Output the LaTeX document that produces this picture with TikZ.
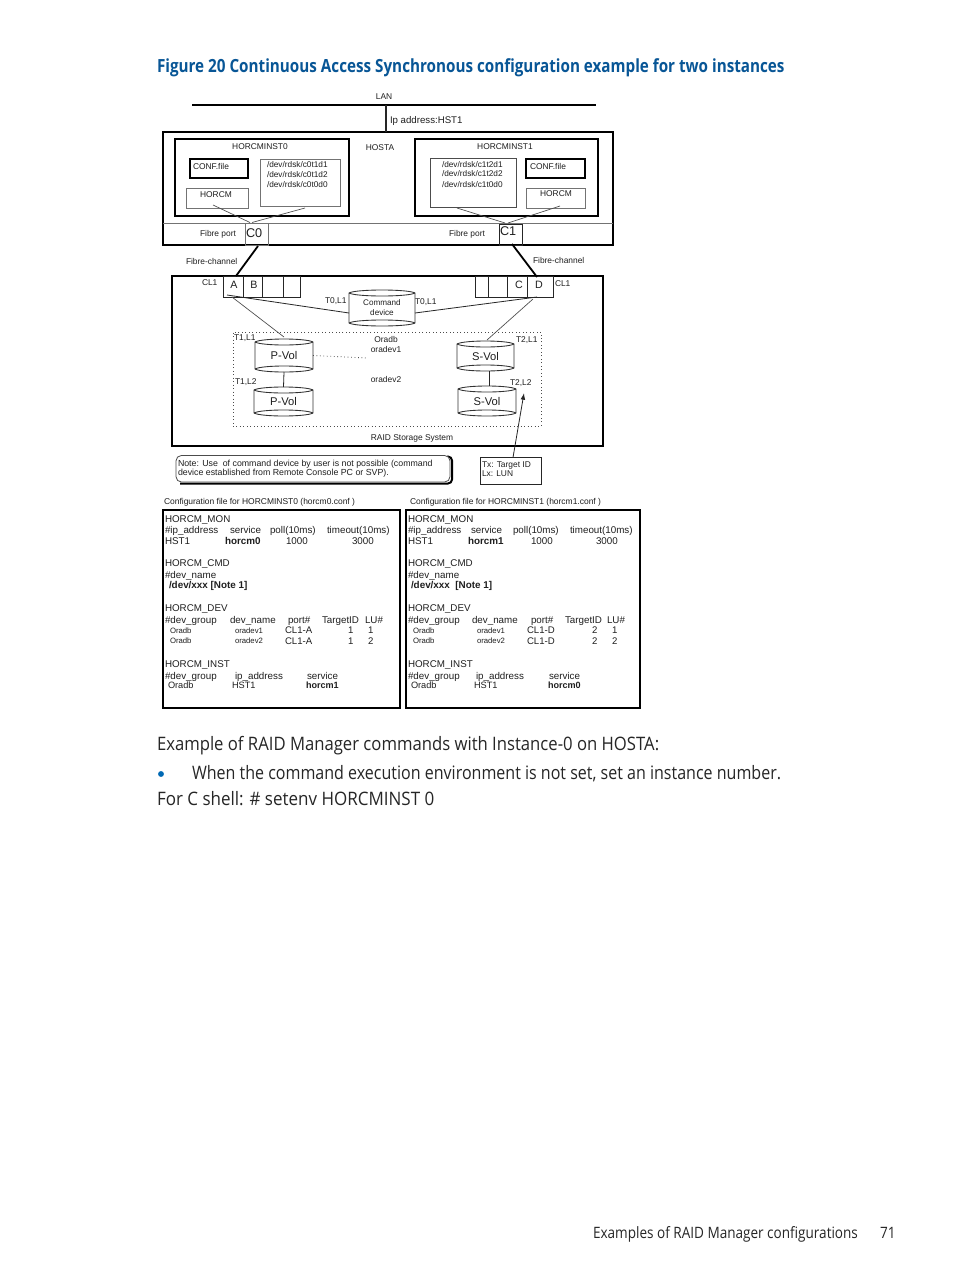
\documentclass[tikz,border=0pt]{standalone}
\usepackage{fontspec}
\usetikzlibrary{arrows.meta}
\setmainfont{Liberation Sans}
\newfontfamily\docfontA[FakeStretch=0.90]{Open Sans}
\newfontfamily\docfontB[FakeStretch=0.865]{Open Sans}
\newfontfamily\docfontC[FakeStretch=0.917]{Open Sans}
\newfontfamily\titlefont[FakeStretch=0.84]{Open Sans}
\definecolor{hpblue}{RGB}{8,86,150}
\definecolor{bulblue}{RGB}{0,105,180}
\definecolor{ink}{gray}{0.12}
\newcount\txc
% \tx{style}{x}{baseline y}{text}
\newcommand{\tx}[4]{\global\advance\txc by 1\relax
  \node[txt,#1] (t\the\txc) at (#2,#3) {#4};}
% \bx{style}{name}{x1}{y1}{x2}{y2}
\newcommand{\bx}[6]{%
  \pgfmathsetmacro\bw{(#5-#3)*0.75}\pgfmathsetmacro\bh{(#6-#4)*0.75}%
  \pgfmathsetmacro\bcx{(#3+#5)/2}\pgfmathsetmacro\bcy{(#4+#6)/2}%
  \node[inner sep=0pt,outer sep=0pt,minimum width=\bw pt,minimum height=\bh pt,#1] (#2) at (\bcx,\bcy) {};}
% \cyl{name}{x1}{y1}{x2}{y2}{text style}{text}
\newcommand{\cyl}[7]{%
  \bx{}{#1}{#2}{#3}{#4}{#5}%
  \draw[cylline] (#2,#3+3) .. controls (#2+7,#3-1) and (#4-7,#3-1) .. (#4,#3+3)
     -- (#4,#5-3) .. controls (#4-7,#5+1) and (#2+7,#5+1) .. (#2,#5-3) -- cycle;
  \draw[cylline] (#2,#3+3) .. controls (#2+7,#3+7) and (#4-7,#3+7) .. (#4,#3+3);
  \draw[cylline] (#2,#5-3) .. controls (#2+7,#5-7) and (#4-7,#5-7) .. (#4,#5-3);
  \node[#6,align=center,inner sep=0pt,text=ink] (#1txt) at (#1) {#7};}
\tikzset{
  txt/.style={anchor=base west,inner sep=0pt,outer sep=0pt,text=ink},
  mid/.style={anchor=base},
  f8/.style={font=\fontsize{6.3}{7}\selectfont},
  f8w/.style={font=\fontsize{6.2}{7}\selectfont},
  nt/.style={font=\fontsize{6.6}{7}\selectfont},
  captxt/.style={font=\fontsize{6.35}{7}\selectfont},
  f9/.style={font=\fontsize{7.25}{8}\selectfont},
  fa/.style={font=\fontsize{9.5}{10}\selectfont},
  fport/.style={font=\fontsize{8}{9}\selectfont},
  fc/.style={font=\fontsize{5.8}{6}\selectfont},
  ci/.style={font=\fontsize{6.9}{8}\selectfont},
  cf/.style={font=\fontsize{7.35}{9}\selectfont},
  cg/.style={font=\fontsize{7.2}{9}\selectfont},
  cb/.style={font=\fontsize{7.4}{9}\selectfont\bfseries},
  cs/.style={font=\fontsize{6.8}{9}\selectfont\bfseries},
  vol/.style={font=\fontsize{8.4}{9}\selectfont},
  heavy/.style={draw=black,line width=1.5pt},
  light/.style={draw=black!55,line width=0.6pt},
  mid1/.style={draw=black!85,line width=0.6pt},
  thinl/.style={draw=black!70,line width=0.5pt},
  fibre/.style={draw=black,line width=1.35pt},
  cylline/.style={draw=black!80,line width=0.65pt},
  dots/.style={dotted,draw=black!70,line width=0.6pt},
  docA/.style={font=\docfontA\fontsize{13.9}{16}\selectfont,text=black!85},
  docB/.style={font=\docfontB\fontsize{13.9}{16}\selectfont,text=black!85},
  docC/.style={font=\docfontC\fontsize{13.9}{16}\selectfont,text=black!85},
  title/.style={font=\titlefont\bfseries\fontsize{13.6}{16}\selectfont,text=hpblue},
  foot/.style={font=\docfontB\fontsize{11.75}{13}\selectfont,text=black!85},
  cmdt/.style={font=\fontsize{6.1}{7.5}\selectfont},
}
\begin{document}
\begin{tikzpicture}[x=0.75pt,y=-0.75pt]
\useasboundingbox[fill=white] (0,0) rectangle (954,1271);
% title
\tx{title}{157}{72}{Figure 20 Continuous Access Synchronous configuration example for two instances}
% LAN
\tx{f8,mid}{384}{99}{LAN}
\coordinate (lanL) at (192,105); \coordinate (lanR) at (596,105); \coordinate (lanT) at (386,105);
\draw[heavy] (lanL) -- (lanR);
\tx{f9}{390}{123}{Ip address:HST1}
% host
\bx{heavy}{host}{163}{132}{613}{245}
\draw[mid1,line width=1pt] (lanT) -- (lanT |- host.north);
\draw[light] (host.west |- 0,223) -- (host.east |- 0,223);
\tx{f8,mid}{380}{150}{HOSTA}
\bx{heavy}{instA}{175}{139}{349}{216}
\tx{f8,mid}{260}{149}{HORCMINST0}
\bx{heavy}{confA}{190}{159}{248}{178}
\tx{f8}{193}{169}{CONF.file}
\bx{light}{horA}{186}{188}{248}{208}
\tx{f8,mid}{216}{197}{HORCM}
\bx{light}{devA}{260}{159}{340}{206}
\tx{f8w}{267}{167}{/dev/rdsk/c0t1d1}
\tx{f8w}{267}{177}{/dev/rdsk/c0t1d2}
\tx{f8w}{267}{187}{/dev/rdsk/c0t0d0}
\bx{heavy}{instB}{415}{139}{598}{216}
\tx{f8,mid}{505}{149}{HORCMINST1}
\bx{light,draw=black!70}{devB}{430}{158}{516}{207}
\tx{f8w}{442}{167}{/dev/rdsk/c1t2d1}
\tx{f8w}{442}{176}{/dev/rdsk/c1t2d2}
\tx{f8w}{442}{187}{/dev/rdsk/c1t0d0}
\bx{heavy}{confB}{526}{159}{585}{178}
\tx{f8}{530}{169}{CONF.file}
\bx{light}{horB}{526}{188}{585}{208}
\tx{f8,mid}{556}{196}{HORCM}
\bx{light}{cz}{245}{223}{268}{245}
\tx{fa}{246}{237}{C0}
\bx{mid1}{co}{499}{224}{522}{245}
\tx{fa}{500}{235}{C1}
\tx{f8}{200}{236}{Fibre port}
\tx{f8}{449}{236}{Fibre port}
\coordinate (hA) at (213,205); \coordinate (dA) at (305,208);
\coordinate (hB) at (560,206); \coordinate (dB) at (457,208);
\coordinate (czL) at (250,222.5); \coordinate (czR) at (252,222.5);
\coordinate (coL) at (505,223); \coordinate (coR) at (508,223);
\draw[thinl] (hA) -- (czL);
\draw[thinl] (dA) -- (czR);
\draw[thinl] (dB) -- (coL);
\draw[thinl] (hB) -- (coR);
% storage
\bx{heavy}{raid}{172}{276}{603}{446}
\bx{mid1}{pA}{223}{276}{243}{297}
\bx{mid1}{pB}{243}{276}{262}{297}
\bx{mid1}{pE}{262}{276}{283}{297}
\bx{mid1}{pF}{283}{276}{300}{297}
\bx{mid1}{pG}{475}{276}{488}{297}
\bx{mid1}{pH}{488}{276}{507}{297}
\bx{mid1}{pC}{507}{276}{527}{297}
\bx{mid1}{pD}{527}{276}{553}{297}
\tx{fport,mid}{234}{288}{A}
\tx{fport,mid}{254}{288}{B}
\tx{fport,mid}{519}{288}{C}
\tx{fport,mid}{539}{288}{D}
\tx{f8}{202}{285}{CL1}
\tx{f8}{555}{286}{CL1}
\coordinate (fA) at (258,246); \coordinate (fAe) at (236,276);
\coordinate (fB) at (512,244); \coordinate (fBe) at (537,277);
\draw[fibre] (fA) -- (fAe);
\draw[fibre] (fB) -- (fBe);
\tx{f8}{186}{264}{Fibre-channel}
\tx{f8}{533}{263}{Fibre-channel}
% command device
\cyl{cmd}{349}{290}{415}{326}{cmdt}{Command\\device}
\tx{f8}{325}{303}{T0,L1}
\tx{f8}{415}{304}{T0,L1}
\coordinate (aCmd) at (227,295); \coordinate (cmdL) at (349,313);
\coordinate (dCmd) at (537,297); \coordinate (cmdR) at (415,313);
\draw[mid1] (aCmd) -- (cmdL);
\draw[mid1] (dCmd) -- (cmdR);
% group
\bx{dots}{grp}{233}{332}{541}{426}
\cyl{pv1}{255}{339}{313}{372}{vol}{P-Vol}
\cyl{pv2}{254}{387}{313}{416}{vol}{P-Vol}
\cyl{sv1}{457}{341}{514}{371}{vol}{S-Vol}
\cyl{sv2}{458}{386}{516}{416}{vol}{S-Vol}
\coordinate (aPv) at (232,297); \coordinate (pvT) at (284,337);
\coordinate (dSv) at (533,299); \coordinate (svT) at (487,340);
\draw[thinl] (aPv) -- (pvT);
\draw[thinl] (dSv) -- (svT);
\draw[mid1] (pv1.south) -- (pv2.north);
\coordinate (svA) at (489,371); \coordinate (svB) at (489,386);
\draw[mid1] (svA) -- (svB);
\coordinate (dotE) at (367,358);
\draw[dots] (pv1.east) -- (dotE);
\tx{f8}{234}{340}{T1,L1}
\tx{f8}{235}{384}{T1,L2}
\tx{f8}{516}{342}{T2,L1}
\tx{f8}{510}{385}{T2,L2}
\tx{f8,mid}{386}{342}{Oradb}
\tx{f8,mid}{386}{352}{oradev1}
\tx{f8,mid}{386}{382}{oradev2}
\tx{f8,mid}{412}{440}{RAID Storage System}
% note
\draw[black,line width=1.5pt,rounded corners=3pt] (447,456.5) -- (452,456.5) -- (452,483.5) -- (180,483.5);
\bx{fill=white,draw=black!70,line width=0.6pt,rounded corners=4pt}{note}{176}{455.5}{450}{482}
\tx{nt}{178}{466}{Note: Use\ \ of command device by user is not possible (command}
\tx{nt}{178}{475}{device established from Remote Console PC or SVP).}
\bx{mid1}{lgd}{480}{457}{541}{484}
\tx{f8}{482}{467}{Tx: Target ID}
\tx{f8}{482}{476}{Lx: LUN}
\coordinate (arTip) at (524,393); \coordinate (arS) at (513,457.5);
\draw[mid1,-{Latex[length=5pt,width=3.5pt]}] (arS) -- (arTip);
% config captions
\tx{captxt}{164}{504}{Configuration file for HORCMINST0 (horcm0.conf )}
\tx{captxt}{410}{504}{Configuration file for HORCMINST1 (horcm1.conf )}
\bx{heavy}{cfgA}{163}{510}{400}{708}
\bx{heavy}{cfgB}{406}{510}{640}{708}
% left config
\tx{cf}{165}{522}{HORCM\_MON}
\tx{cf}{165}{533}{\#ip\_address}
\tx{cf}{230}{533}{service}
\tx{cf}{270}{533}{poll(10ms)}
\tx{cf}{327}{533}{timeout(10ms)}
\tx{cf}{165}{544}{HST1}
\tx{cb}{225}{544}{horcm0}
\tx{cf}{286}{544}{1000}
\tx{cf}{352}{544}{3000}
\tx{cf}{165}{566}{HORCM\_CMD}
\tx{cf}{165}{578}{\#dev\_name}
\tx{cb}{169}{588}{/dev/xxx [Note 1]}
\tx{cf}{165}{611}{HORCM\_DEV}
\tx{cf}{165}{623}{\#dev\_group}
\tx{cf}{230}{623}{dev\_name}
\tx{cf}{288}{623}{port\#}
\tx{cf}{322}{623}{TargetID}
\tx{cf}{365}{623}{LU\#}
\tx{fc}{170}{633}{Oradb}
\tx{fc}{235}{633}{oradev1}
\tx{cg}{285}{633}{CL1-A}
\tx{cg}{348}{633}{1}
\tx{cg}{368}{633}{1}
\tx{fc}{170}{643}{Oradb}
\tx{fc}{235}{643}{oradev2}
\tx{cg}{285}{644}{CL1-A}
\tx{cg}{348}{644}{1}
\tx{cg}{368}{644}{2}
\tx{cf}{165}{667}{HORCM\_INST}
\tx{cf}{165}{679}{\#dev\_group}
\tx{cf}{235}{679}{ip\_address}
\tx{cf}{307}{679}{service}
\tx{ci}{168}{688}{Oradb}
\tx{ci}{232}{688}{HST1}
\tx{cs}{306}{688}{horcm1}
% right config
\tx{cf}{408}{522}{HORCM\_MON}
\tx{cf}{408}{533}{\#ip\_address}
\tx{cf}{471}{533}{service}
\tx{cf}{513}{533}{poll(10ms)}
\tx{cf}{570}{533}{timeout(10ms)}
\tx{cf}{408}{544}{HST1}
\tx{cb}{468}{544}{horcm1}
\tx{cf}{531}{544}{1000}
\tx{cf}{596}{544}{3000}
\tx{cf}{408}{566}{HORCM\_CMD}
\tx{cf}{408}{578}{\#dev\_name}
\tx{cb}{411}{588}{/dev/xxx\ \ [Note 1]}
\tx{cf}{408}{611}{HORCM\_DEV}
\tx{cf}{408}{623}{\#dev\_group}
\tx{cf}{472}{623}{dev\_name}
\tx{cf}{531}{623}{port\#}
\tx{cf}{565}{623}{TargetID}
\tx{cf}{607}{623}{LU\#}
\tx{fc}{413}{633}{Oradb}
\tx{fc}{477}{633}{oradev1}
\tx{cg}{527}{633}{CL1-D}
\tx{cg}{592}{633}{2}
\tx{cg}{612}{633}{1}
\tx{fc}{413}{643}{Oradb}
\tx{fc}{477}{643}{oradev2}
\tx{cg}{527}{644}{CL1-D}
\tx{cg}{592}{644}{2}
\tx{cg}{612}{644}{2}
\tx{cf}{408}{667}{HORCM\_INST}
\tx{cf}{408}{679}{\#dev\_group}
\tx{cf}{476}{679}{ip\_address}
\tx{cf}{549}{679}{service}
\tx{ci}{411}{688}{Oradb}
\tx{ci}{474}{688}{HST1}
\tx{cs}{548}{688}{horcm0}
% body
\tx{docA}{157}{750}{Example of RAID Manager commands with Instance-0 on HOSTA:}
\node[circle,fill=bulblue,inner sep=0pt,minimum size=4.4pt] (bul) at (161,774) {};
\tx{docB}{192}{779}{When the command execution environment is not set, set an instance number.}
\tx{docC}{157}{805}{For C shell: \# setenv HORCMINST 0}
\tx{foot}{593}{1238}{Examples of RAID Manager configurations}
\tx{foot}{880}{1238}{71}
\end{tikzpicture}
\end{document}
